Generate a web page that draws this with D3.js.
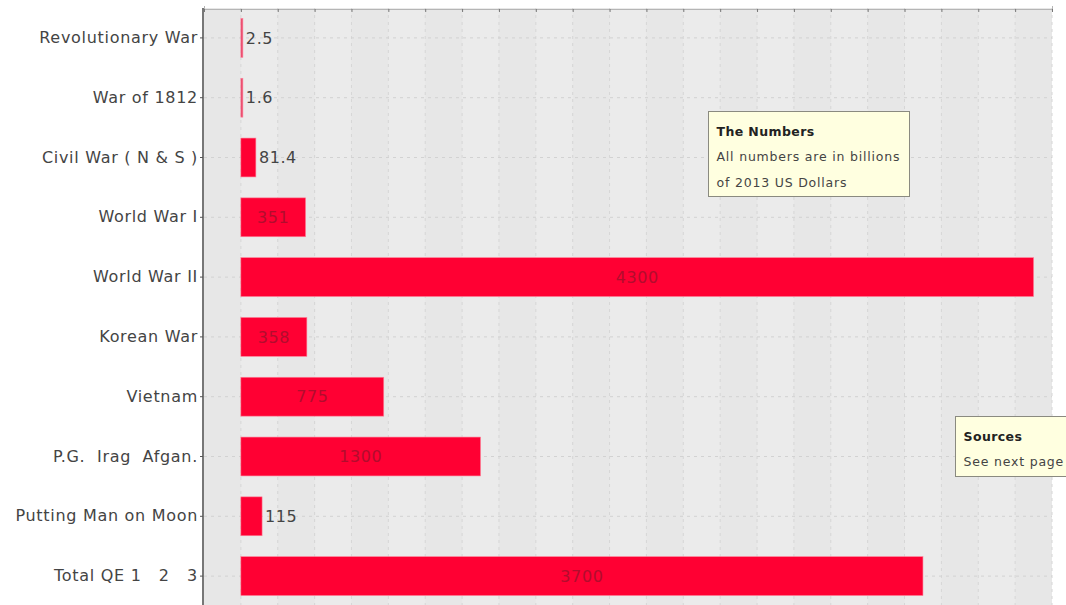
<!DOCTYPE html>
<html>
<head>
<meta charset="utf-8">
<script src="https://cdn.jsdelivr.net/npm/d3@7"></script>
<style>
  body { margin: 0; background: #fff; }
  svg { display: block; font-family: "DejaVu Sans", Verdana, sans-serif; }
  svg text { white-space: pre; }
</style>
</head>
<body>
<div id="chart"></div>
<script>
/**
 * DATA
 **/
const categories = [
  "Revolutionary War", "War of 1812", "Civil War ( N & S )", "World War I",
  "World War II", "Korean War", "Vietnam", "P.G.  Irag  Afgan.",
  "Putting Man on Moon", "Total QE 1   2   3"
];
const costs = [2.5, 1.6, 81.4, 351, 4300, 358, 775, 1300, 115, 3700];
const costLabels = ["2.5", "1.6", "81.4", "351", "4300", "358", "775", "1300", "115", "3700"];
const xTicks = d3.range(-200, 4401, 200);

const noteLines = ["The Numbers", "All numbers are in billions", "of 2013 US Dollars"];
const sourceLines = ["Sources", "See next page"];

/**
 * CONSTANTS
 **/
const width = 1066, height = 605,
  margin = { top: 8, right: 14, bottom: -1, left: 204 };

const rows = categories.map((c, i) => ({ name: c, value: costs[i], label: costLabels[i] }));

const svg = d3.select("#chart").append("svg")
  .attr("width", width)
  .attr("height", height);

// SCALES
const xScale = d3.scaleLinear()
  .domain([-200, 4400])
  .range([margin.left, width - margin.right]);

const yScale = d3.scaleBand()
  .domain(categories)
  .range([margin.top, height - margin.bottom])
  .paddingInner(0.35)
  .paddingOuter(0.175);

// plot background with alternating stripes
svg.append("rect")
  .attr("x", xScale(-200)).attr("y", margin.top)
  .attr("width", xScale(4400) - xScale(-200))
  .attr("height", height - margin.top)
  .attr("fill", "#e7e7e7");

svg.selectAll("rect.stripe")
  .data(xTicks.slice(0, -1).filter((d, i) => i % 2 === 1))
  .join("rect")
  .attr("class", "stripe")
  .attr("x", d => xScale(d))
  .attr("y", margin.top)
  .attr("width", d => xScale(d + 200) - xScale(d))
  .attr("height", height - margin.top)
  .attr("fill", "#ebebeb");

// vertical dashed grid
svg.selectAll("line.vgrid")
  .data(xTicks.slice(1))
  .join("line")
  .attr("class", "vgrid")
  .attr("x1", d => xScale(d)).attr("x2", d => xScale(d))
  .attr("y1", margin.top).attr("y2", height)
  .attr("stroke", "#d6d6d6")
  .attr("stroke-dasharray", "3,4");

// horizontal dashed grid at category centres
svg.selectAll("line.hgrid")
  .data(categories)
  .join("line")
  .attr("class", "hgrid")
  .attr("x1", xScale(-200)).attr("x2", xScale(4400))
  .attr("y1", d => yScale(d) + yScale.bandwidth() / 2)
  .attr("y2", d => yScale(d) + yScale.bandwidth() / 2)
  .attr("stroke", "#d2d2d2")
  .attr("stroke-dasharray", "3,4");

// top axis (ticks only)
const xAxis = d3.axisTop(xScale).tickValues(xTicks).tickSize(3).tickFormat("");
svg.append("g")
  .attr("class", "axis x-axis")
  .attr("transform", `translate(0,${margin.top + 1})`)
  .call(xAxis)
  .call(g => g.select(".domain").attr("stroke", "#b5b5b5"))
  .call(g => g.selectAll(".tick line").attr("stroke", "#777").attr("transform", "translate(0,3)"));

// bars
svg.selectAll("rect.bar")
  .data(rows)
  .join("rect")
  .attr("class", "bar")
  .attr("x", xScale(0))
  .attr("y", d => yScale(d.name))
  .attr("width", d => Math.max(2, xScale(d.value) - xScale(0)))
  .attr("height", yScale.bandwidth())
  .attr("fill", d => d.value < 10 ? "#e8466a" : "#ff0033")
  .attr("stroke", "#ff7f96")
  .attr("stroke-width", 0.6);

// value labels: outside for short bars, centred inside for long bars
const inside = d => xScale(d.value) - xScale(0) > 50;
svg.selectAll("text.value")
  .data(rows)
  .join("text")
  .attr("class", "value")
  .attr("x", d => inside(d) ? (xScale(0) + xScale(d.value)) / 2 : Math.max(xScale(d.value), xScale(0) + 2) + 3)
  .attr("y", d => yScale(d.name) + yScale.bandwidth() / 2)
  .attr("dy", "0.36em")
  .attr("text-anchor", d => inside(d) ? "middle" : "start")
  .attr("font-size", 16)
  .attr("letter-spacing", 0.6)
  .attr("fill", d => inside(d) ? "#a0102c" : "#444")
  .attr("opacity", d => inside(d) ? 0.8 : 1)
  .text(d => d.label);

// y axis
const yAxis = d3.axisLeft(yScale).tickSize(3).tickPadding(2);
svg.append("g")
  .attr("class", "axis y-axis")
  .attr("transform", `translate(${margin.left - 1},0)`)
  .call(yAxis)
  .call(g => g.select(".domain").attr("stroke", "#777").attr("stroke-width", 2).attr("d", `M0,${margin.top}V${height}`))
  .call(g => g.selectAll(".tick line").attr("stroke", "#555"))
  .call(g => g.selectAll(".tick text")
    .attr("font-size", 16)
    .attr("letter-spacing", 0.7)
    .attr("fill", "#444")
    .attr("font-family", "DejaVu Sans, sans-serif"));

// annotation boxes
function note(x, y, w, h, lines) {
  const g = svg.append("g").attr("transform", `translate(${x},${y})`);
  g.append("rect")
    .attr("width", w).attr("height", h)
    .attr("fill", "#ffffe0")
    .attr("stroke", "#8a8a80")
    .attr("stroke-width", 1);
  g.selectAll("text")
    .data(lines)
    .join("text")
    .attr("x", 8)
    .attr("y", (d, i) => 24 + i * 25.5)
    .attr("font-size", 12.5)
    .attr("letter-spacing", (d, i) => i === 0 ? 0.4 : 0.8)
    .attr("font-weight", (d, i) => i === 0 ? "bold" : "normal")
    .attr("fill", (d, i) => i === 0 ? "#222" : "#444")
    .text(d => d);
}
note(708.5, 111.5, 201, 85, noteLines);
note(955.5, 416.5, 120, 60, sourceLines);
</script>
</body>
</html>
